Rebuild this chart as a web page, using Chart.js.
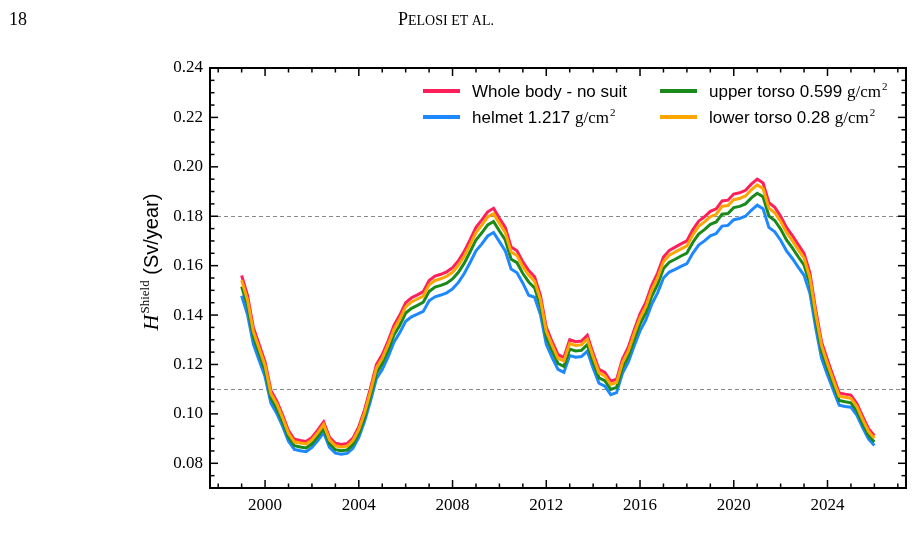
<!DOCTYPE html>
<html>
<head>
<meta charset="utf-8">
<script src="https://cdn.jsdelivr.net/npm/chart.js@4"></script>
<style>
  html, body { margin: 0; padding: 0; background: #fff; }
  #wrap { width: 914px; height: 551px; }
</style>
</head>
<body>
<div id="wrap"><canvas id="chart" width="914" height="551"></canvas></div>
<script>
// Data (quarter-year steps)
const years = [
  1999.00, 1999.25, 1999.50, 1999.75, 2000.00, 2000.25, 2000.50, 2000.75,
  2001.00, 2001.25, 2001.50, 2001.75, 2002.00, 2002.25, 2002.50, 2002.75,
  2003.00, 2003.25, 2003.50, 2003.75, 2004.00, 2004.25, 2004.50, 2004.75,
  2005.00, 2005.25, 2005.50, 2005.75, 2006.00, 2006.25, 2006.50, 2006.75,
  2007.00, 2007.25, 2007.50, 2007.75, 2008.00, 2008.25, 2008.50, 2008.75,
  2009.00, 2009.25, 2009.50, 2009.75, 2010.00, 2010.25, 2010.50, 2010.75,
  2011.00, 2011.25, 2011.50, 2011.75, 2012.00, 2012.25, 2012.50, 2012.75,
  2013.00, 2013.25, 2013.50, 2013.75, 2014.00, 2014.25, 2014.50, 2014.75,
  2015.00, 2015.25, 2015.50, 2015.75, 2016.00, 2016.25, 2016.50, 2016.75,
  2017.00, 2017.25, 2017.50, 2017.75, 2018.00, 2018.25, 2018.50, 2018.75,
  2019.00, 2019.25, 2019.50, 2019.75, 2020.00, 2020.25, 2020.50, 2020.75,
  2021.00, 2021.25, 2021.50, 2021.75, 2022.00, 2022.25, 2022.50, 2022.75,
  2023.00, 2023.25, 2023.50, 2023.75, 2024.00, 2024.25, 2024.50, 2024.75,
  2025.00, 2025.25, 2025.50, 2025.75, 2026.00
];

const wholeBody = [
  0.1560, 0.1480, 0.1350, 0.1280, 0.1210, 0.1095, 0.1052, 0.0995,
  0.0932, 0.0897, 0.0892, 0.0888, 0.0905, 0.0935, 0.0968, 0.0905,
  0.0881, 0.0876, 0.0880, 0.0902, 0.0948, 0.1018, 0.1105, 0.1200,
  0.1240, 0.1295, 0.1358, 0.1400, 0.1450, 0.1470, 0.1482, 0.1495,
  0.1540, 0.1558, 0.1565, 0.1575, 0.1592, 0.1620, 0.1658, 0.1705,
  0.1755, 0.1785, 0.1818, 0.1832, 0.1792, 0.1755, 0.1675, 0.1660,
  0.1615, 0.1580, 0.1555, 0.1480, 0.1350, 0.1292, 0.1240, 0.1228,
  0.1300, 0.1292, 0.1295, 0.1318, 0.1245, 0.1180, 0.1168, 0.1132,
  0.1140, 0.1222, 0.1270, 0.1340, 0.1405, 0.1452, 0.1520, 0.1570,
  0.1635, 0.1662, 0.1675, 0.1688, 0.1700, 0.1745, 0.1780, 0.1798,
  0.1820, 0.1830, 0.1862, 0.1865, 0.1890, 0.1895, 0.1905, 0.1930,
  0.1950, 0.1935, 0.1855, 0.1836, 0.1800, 0.1755, 0.1722, 0.1685,
  0.1650, 0.1570, 0.1420, 0.1290, 0.1218, 0.1150, 0.1085, 0.1080,
  0.1076, 0.1042, 0.0990, 0.0940, 0.0912
];

const helmet = [
  0.1478, 0.1402, 0.1282, 0.1216, 0.1150, 0.1043, 0.1002, 0.0949,
  0.0889, 0.0856, 0.0851, 0.0847, 0.0864, 0.0892, 0.0924, 0.0864,
  0.0841, 0.0837, 0.0840, 0.0861, 0.0905, 0.0971, 0.1053, 0.1142,
  0.1180, 0.1231, 0.1290, 0.1329, 0.1375, 0.1393, 0.1404, 0.1415,
  0.1458, 0.1474, 0.1481, 0.1490, 0.1506, 0.1532, 0.1568, 0.1613,
  0.1660, 0.1688, 0.1720, 0.1734, 0.1697, 0.1660, 0.1586, 0.1571,
  0.1529, 0.1480, 0.1472, 0.1402, 0.1282, 0.1228, 0.1180, 0.1168,
  0.1236, 0.1229, 0.1232, 0.1254, 0.1185, 0.1124, 0.1112, 0.1078,
  0.1086, 0.1164, 0.1209, 0.1275, 0.1336, 0.1380, 0.1444, 0.1490,
  0.1550, 0.1574, 0.1585, 0.1597, 0.1608, 0.1650, 0.1683, 0.1700,
  0.1721, 0.1730, 0.1760, 0.1763, 0.1786, 0.1791, 0.1800, 0.1824,
  0.1845, 0.1830, 0.1755, 0.1737, 0.1703, 0.1660, 0.1629, 0.1594,
  0.1561, 0.1488, 0.1346, 0.1224, 0.1157, 0.1096, 0.1035, 0.1030,
  0.1027, 0.0995, 0.0945, 0.0899, 0.0872
];

const upperTorso = [
  0.1515, 0.1437, 0.1311, 0.1243, 0.1175, 0.1063, 0.1021, 0.0966,
  0.0905, 0.0871, 0.0866, 0.0862, 0.0879, 0.0908, 0.0940, 0.0879,
  0.0855, 0.0851, 0.0854, 0.0876, 0.0921, 0.0988, 0.1073, 0.1165,
  0.1204, 0.1257, 0.1319, 0.1359, 0.1408, 0.1427, 0.1439, 0.1452,
  0.1495, 0.1513, 0.1520, 0.1529, 0.1546, 0.1573, 0.1610, 0.1656,
  0.1704, 0.1733, 0.1765, 0.1779, 0.1740, 0.1704, 0.1626, 0.1612,
  0.1568, 0.1534, 0.1510, 0.1437, 0.1311, 0.1255, 0.1204, 0.1192,
  0.1262, 0.1255, 0.1257, 0.1280, 0.1209, 0.1146, 0.1134, 0.1099,
  0.1107, 0.1187, 0.1233, 0.1301, 0.1364, 0.1410, 0.1476, 0.1524,
  0.1588, 0.1614, 0.1626, 0.1639, 0.1651, 0.1694, 0.1728, 0.1746,
  0.1767, 0.1777, 0.1808, 0.1811, 0.1835, 0.1840, 0.1850, 0.1874,
  0.1893, 0.1879, 0.1801, 0.1783, 0.1748, 0.1704, 0.1672, 0.1636,
  0.1602, 0.1525, 0.1379, 0.1253, 0.1183, 0.1117, 0.1054, 0.1049,
  0.1045, 0.1012, 0.0961, 0.0913, 0.0886
];

const lowerTorso = [
  0.1541, 0.1462, 0.1334, 0.1265, 0.1196, 0.1082, 0.1040, 0.0984,
  0.0921, 0.0887, 0.0882, 0.0878, 0.0895, 0.0924, 0.0957, 0.0895,
  0.0871, 0.0866, 0.0870, 0.0892, 0.0937, 0.1006, 0.1092, 0.1186,
  0.1225, 0.1280, 0.1342, 0.1384, 0.1433, 0.1453, 0.1465, 0.1477,
  0.1522, 0.1540, 0.1547, 0.1557, 0.1573, 0.1601, 0.1639, 0.1685,
  0.1734, 0.1764, 0.1797, 0.1810, 0.1771, 0.1734, 0.1655, 0.1641,
  0.1596, 0.1562, 0.1537, 0.1463, 0.1334, 0.1277, 0.1225, 0.1214,
  0.1285, 0.1277, 0.1280, 0.1302, 0.1231, 0.1166, 0.1154, 0.1119,
  0.1127, 0.1208, 0.1255, 0.1324, 0.1389, 0.1435, 0.1502, 0.1551,
  0.1616, 0.1642, 0.1655, 0.1668, 0.1680, 0.1724, 0.1759, 0.1777,
  0.1798, 0.1808, 0.1840, 0.1843, 0.1867, 0.1872, 0.1882, 0.1907,
  0.1927, 0.1912, 0.1833, 0.1814, 0.1779, 0.1734, 0.1701, 0.1665,
  0.1630, 0.1551, 0.1403, 0.1275, 0.1203, 0.1136, 0.1072, 0.1067,
  0.1063, 0.1030, 0.0978, 0.0929, 0.0901
];

const yTicks = [0.08, 0.10, 0.12, 0.14, 0.16, 0.18, 0.20, 0.22, 0.24];
const xTicks = [2000, 2004, 2008, 2012, 2016, 2020, 2024];
const refLines = [0.18, 0.11];

const labels = ['Whole body - no suit', 'helmet 1.217 ', 'upper torso 0.599 ', 'lower torso 0.28 '];
const hasUnit = [false, true, true, true];
const colors = ['#ff1f5b', '#1e88ff', '#1a8a1a', '#ffa500'];

const SERIF = '"Liberation Serif", "DejaVu Serif", serif';
const SANS = '"Liberation Sans", Arial, sans-serif';

function toPoints(vals) {
  return vals.map((v, i) => ({ x: years[i], y: v }));
}

// small helper: g/cm^2 in serif with raised 2
function drawUnit(ctx, x, y) {
  ctx.font = '17px ' + SERIF;
  ctx.fillText('g/cm', x, y);
  const w = ctx.measureText('g/cm').width;
  ctx.font = '11px ' + SERIF;
  ctx.fillText('2', x + w + 1, y - 7);
}

function line(ctx, x1, y1, x2, y2) {
  ctx.beginPath();
  ctx.moveTo(x1, y1);
  ctx.lineTo(x2, y2);
  ctx.stroke();
}

const decorations = {
  id: 'decorations',
  beforeDatasetsDraw(chart) {
    const { ctx, chartArea: a, scales: { y } } = chart;
    ctx.save();
    ctx.strokeStyle = '#8a8a8a';
    ctx.lineWidth = 1;
    ctx.setLineDash([4, 3]);
    refLines.forEach(v => {
      const py = Math.round(y.getPixelForValue(v)) + 0.5;
      line(ctx, a.left, py, a.right, py);
    });
    ctx.restore();
  },
  afterDraw(chart) {
    const { ctx, chartArea: a, scales: { x, y } } = chart;
    ctx.save();

    // frame
    ctx.strokeStyle = '#000';
    ctx.lineWidth = 2;
    ctx.strokeRect(a.left, a.top, a.right - a.left, a.bottom - a.top);

    // inward ticks on all four sides
    ctx.lineWidth = 1.5;
    for (let yr = 1998; yr <= 2027; yr++) {
      const px = x.getPixelForValue(yr);
      const len = yr % 4 === 0 ? 8 : 4.5;
      line(ctx, px, a.bottom, px, a.bottom - len);
      line(ctx, px, a.top, px, a.top + len);
    }
    for (let i = 14; i <= 48; i++) {
      const py = y.getPixelForValue(i * 0.005);
      const len = i % 4 === 0 ? 8 : 4.5;
      line(ctx, a.left, py, a.left + len, py);
      line(ctx, a.right, py, a.right - len, py);
    }

    // legend (two columns)
    const colX = [423, 660];
    const rowY = [91, 117];
    const order = [[0, 1], [2, 3]];
    ctx.fillStyle = '#000';
    ctx.textBaseline = 'alphabetic';
    order.forEach((col, c) => {
      col.forEach((di, r) => {
        const lx = colX[c], ly = rowY[r];
        ctx.strokeStyle = colors[di];
        ctx.lineWidth = 4;
        line(ctx, lx, ly, lx + 37, ly);
        ctx.font = '17px ' + SANS;
        ctx.fillText(labels[di], lx + 49, ly + 6);
        if (hasUnit[di]) {
          const w = ctx.measureText(labels[di]).width;
          drawUnit(ctx, lx + 49 + w, ly + 6);
        }
      });
    });

    // y axis title: H^Shield (Sv/year)
    ctx.translate(158, 262);
    ctx.rotate(-Math.PI / 2);
    ctx.font = 'italic 22px ' + SERIF;
    const wH = ctx.measureText('H').width;
    ctx.font = '13px ' + SERIF;
    const wS = ctx.measureText('Shield').width;
    ctx.font = '20px ' + SANS;
    const wU = ctx.measureText(' (Sv/year)').width;
    let cx = -(wH + 1 + wS + wU) / 2;
    ctx.font = 'italic 22px ' + SERIF;
    ctx.fillText('H', cx, 0);
    cx += wH + 1;
    ctx.font = '13px ' + SERIF;
    ctx.fillText('Shield', cx, -9);
    cx += wS;
    ctx.font = '20px ' + SANS;
    ctx.fillText(' (Sv/year)', cx, 0);
    ctx.setTransform(1, 0, 0, 1, 0, 0);

    // page header
    ctx.font = '18px ' + SERIF;
    ctx.fillText('18', 9, 25);
    let hx = 398;
    ctx.font = '18px ' + SERIF;
    ctx.fillText('P', hx, 25);
    hx += ctx.measureText('P').width;
    ctx.font = '14px ' + SERIF;
    ctx.fillText('ELOSI ET AL.', hx, 25);

    ctx.restore();
  }
};

new Chart(document.getElementById('chart'), {
  type: 'line',
  data: {
    datasets: [
      { label: labels[0], data: toPoints(wholeBody), borderColor: colors[0], order: 4 },
      { label: labels[1], data: toPoints(helmet), borderColor: colors[1], order: 3 },
      { label: labels[2], data: toPoints(upperTorso), borderColor: colors[2], order: 2 },
      { label: labels[3], data: toPoints(lowerTorso), borderColor: colors[3], order: 1 }
    ].map(d => Object.assign(d, { borderWidth: 3, pointRadius: 0, tension: 0, fill: false }))
  },
  options: {
    responsive: false,
    devicePixelRatio: 1,
    animation: false,
    layout: { padding: { left: 0, right: 8, top: 68, bottom: 0 } },
    plugins: {
      legend: { display: false },
      tooltip: { enabled: false }
    },
    scales: {
      x: {
        type: 'linear',
        min: 1997.65,
        max: 2027.35,
        grid: { display: false, drawTicks: false },
        border: { display: false },
        afterBuildTicks: s => { s.ticks = xTicks.map(v => ({ value: v })); },
        afterFit: s => { s.height = 63; },
        ticks: {
          padding: 7,
          color: '#000',
          font: { family: SERIF, size: 17 },
          maxRotation: 0,
          callback: v => String(v)
        }
      },
      y: {
        type: 'linear',
        min: 0.07,
        max: 0.24,
        grid: { display: false, drawTicks: false },
        border: { display: false },
        afterBuildTicks: s => { s.ticks = yTicks.map(v => ({ value: v })); },
        afterFit: s => { s.width = 210; },
        ticks: {
          padding: 7,
          color: '#000',
          font: { family: SERIF, size: 17 },
          callback: v => v.toFixed(2)
        }
      }
    }
  },
  plugins: [decorations]
});
</script>
</body>
</html>
